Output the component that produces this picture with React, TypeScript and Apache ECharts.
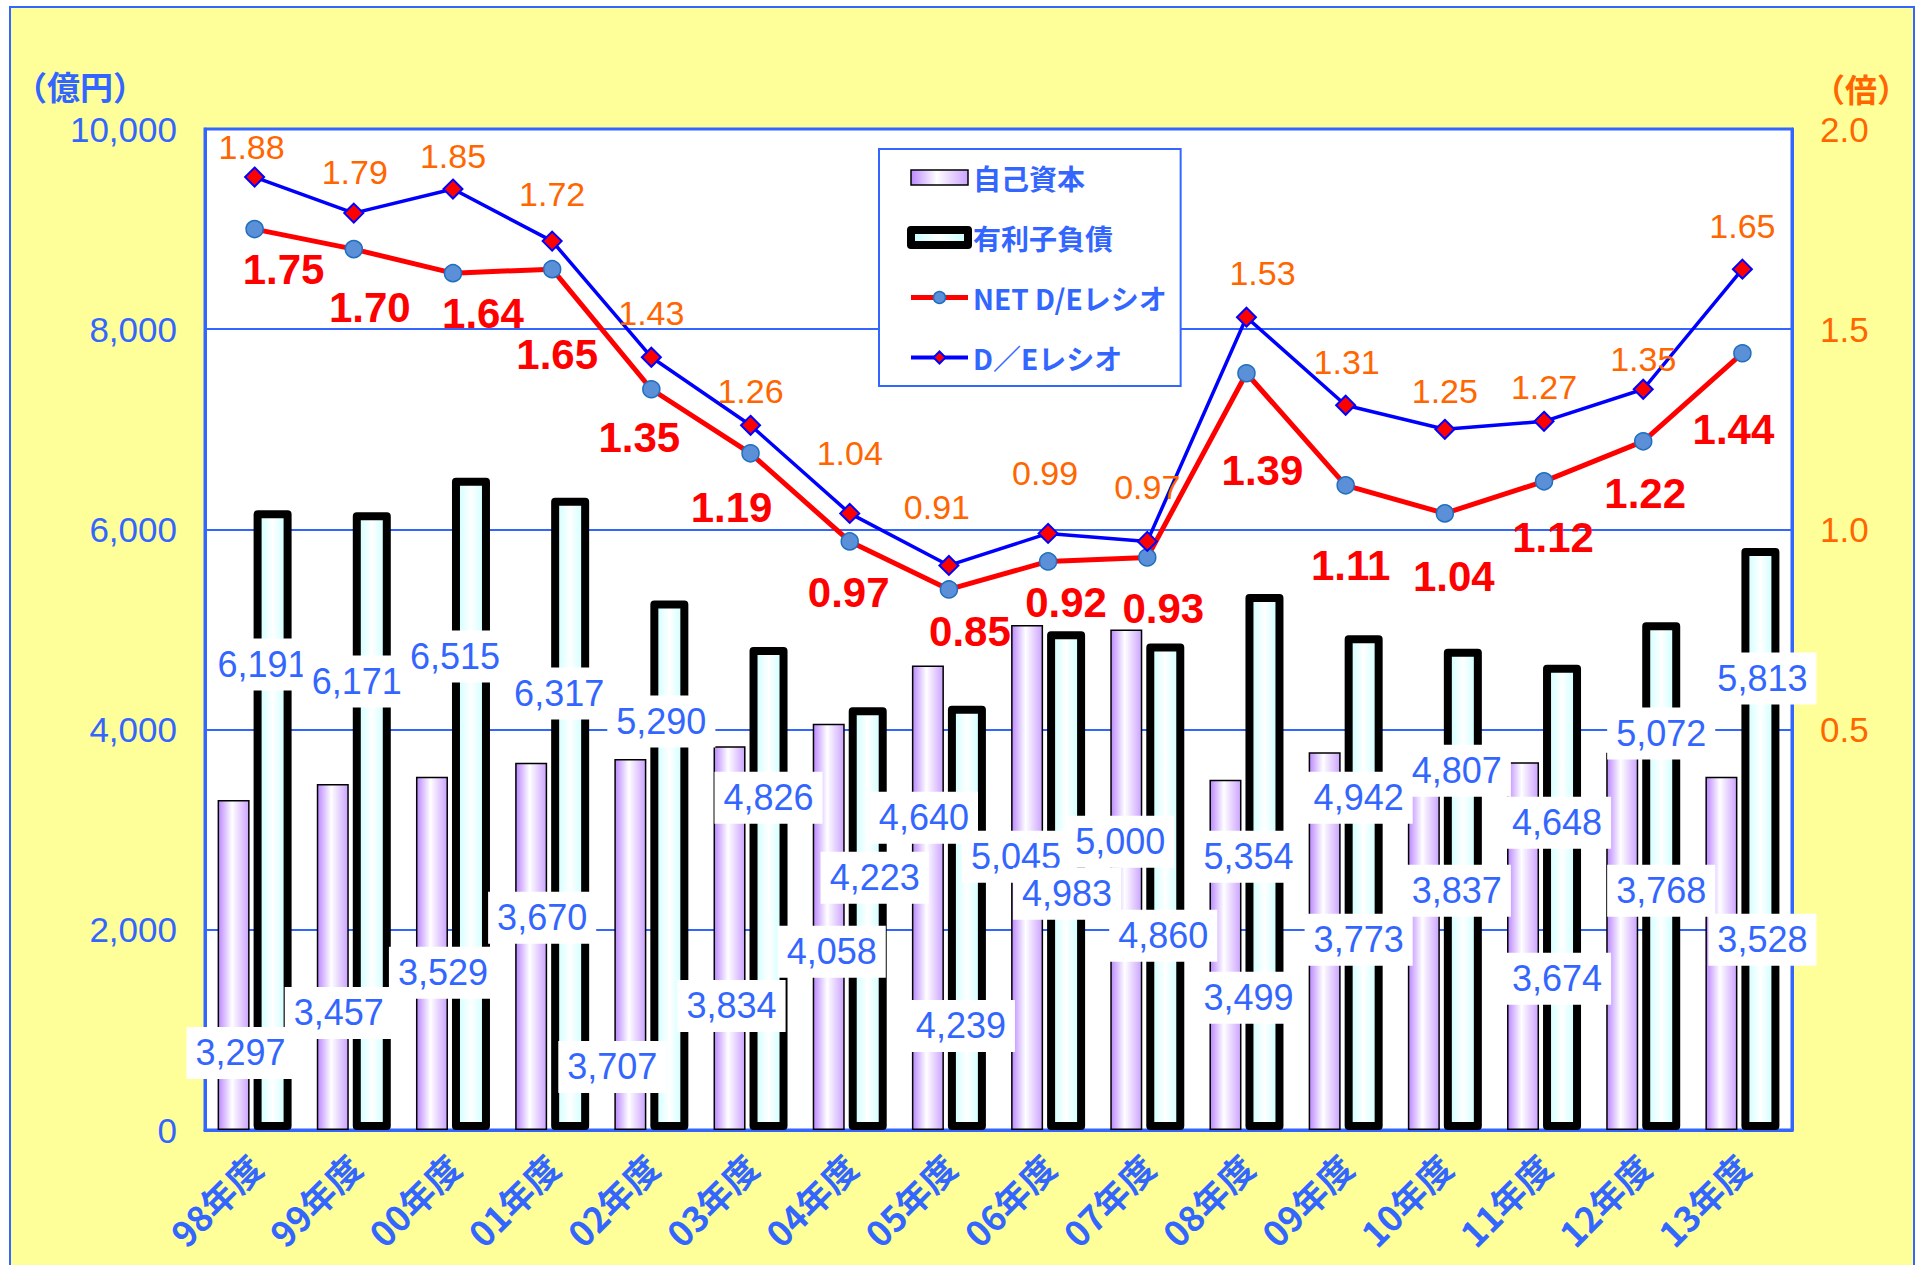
import React, { useEffect, useRef } from "react";
import * as echarts from "echarts";

// ---- data ----
const categories = ["98年度", "99年度", "00年度", "01年度", "02年度", "03年度", "04年度", "05年度", "06年度", "07年度", "08年度", "09年度", "10年度", "11年度", "12年度", "13年度"];
const equity = [3297, 3457, 3529, 3670, 3707, 3834, 4058, 4640, 5045, 5000, 3499, 3773, 3837, 3674, 3768, 3528];
const debt = [6191, 6171, 6515, 6317, 5290, 4826, 4223, 4239, 4983, 4860, 5354, 4942, 4807, 4648, 5072, 5813];
const netDE = [1.75, 1.70, 1.64, 1.65, 1.35, 1.19, 0.97, 0.85, 0.92, 0.93, 1.39, 1.11, 1.04, 1.12, 1.22, 1.44];
const deRatio = [1.88, 1.79, 1.85, 1.72, 1.43, 1.26, 1.04, 0.91, 0.99, 0.97, 1.53, 1.31, 1.25, 1.27, 1.35, 1.65];
const leftTicks = { min: 0, max: 10000, step: 2000 };
const rightTicks = { min: -0.5, max: 2.0, step: 0.5 };

// ---- label layout (where the value boxes sit, in axis units / px nudges) ----
const equityLabelAt = [770, 1170, 1570, 2120, 630, 1240, 1780, 3120, 2730, 2880, 1320, 1900, 2390, 1510, 2390, 1900];
const equityLabelDx = [-14, -15, -10, -10, -39, -19, -18, -25, -32, -27, 2, 13, 12, 13, 18, 20];
const debtLabelAt = [4650, 4480, 4730, 4360, 4080, 3320, 2520, 1040, 2360, 1940, 2730, 3320, 3590, 3070, 3960, 4510];
const debtLabelDx = [8, 3, 2, 7, 10, 18, 25, 12, 19, 16, 2, 13, 12, 13, 18, 20];
const deLabelOffset = [[-3, -30], [1, -41], [0, -33], [0, -47], [0, -44], [0, -34], [0, -60], [-12, -58], [-3, -60], [0, -54], [16, -44], [1, -43], [0, -38], [0, -34], [0, -30], [0, -43]];
const netLabelOffset = [[29, 40], [16, 58], [30, 40], [5, 85], [-12, 48], [-19, 54], [-1, 51], [21, 42], [18, 41], [16, 51], [16, 97], [5, 80], [9, 63], [9, 56], [2, 52], [-9, 76]];

const BLUE = "#3366FF";
const ORANGE = "#FF6600";
const NUM_FONT = "'Liberation Sans', Arial, sans-serif";
const CJK_FONT = "'Noto Sans CJK JP', sans-serif";

const fmt = (v: number) => v.toLocaleString("en-US");

export default function App() {
  const ref = useRef<HTMLDivElement>(null);
  useEffect(() => {
    if (!ref.current) return;
    const chart = echarts.init(ref.current, null, { renderer: "svg" });

    const equityFill = () =>
      new echarts.graphic.LinearGradient(0, 0, 1, 0, [
        { offset: 0, color: "#BB88FF" },
        { offset: 0.45, color: "#FFFFFF" },
        { offset: 1, color: "#CCA3FF" },
      ]);
    const debtFill = () =>
      new echarts.graphic.LinearGradient(0, 0, 1, 0, [
        { offset: 0, color: "#C8FFFF" },
        { offset: 0.5, color: "#FFFFFF" },
        { offset: 1, color: "#C8FFFF" },
      ]);

    const valueBox = {
      show: true,
      position: "inside",
      backgroundColor: "#FFFFFF",
      padding: [9, 9, 7, 9],
      color: BLUE,
      opacity: 1,
      fontSize: 36,
      fontFamily: NUM_FONT,
    };

    const option: any = {
      animation: false,
      grid: {
        left: 205,
        right: 127,
        top: 129,
        bottom: 135,
        show: true,
        backgroundColor: "#FFFFFF",
        borderColor: BLUE,
        borderWidth: 3,
      },
      legend: {
        orient: "vertical",
        left: 879,
        top: 149,
        backgroundColor: "#FFFFFF",
        borderColor: BLUE,
        borderWidth: 2,
        padding: [12, 14, 12, 28],
        itemWidth: 57,
        itemHeight: 15,
        itemGap: 27,
        selectedMode: false,
        textStyle: { color: BLUE, fontSize: 28, fontWeight: "bold", fontFamily: CJK_FONT, lineHeight: 33 },
        data: [
          { name: "自己資本", icon: "rect", itemStyle: { borderColor: "#000000", borderWidth: 1.5 } },
          { name: "有利子負債", icon: "rect", itemStyle: { borderColor: "#000000", borderWidth: 8, borderJoin: "round" } },
          { name: "NET D/Eレシオ", lineStyle: { width: 5, color: "#FF0000" }, itemStyle: { color: "#5B8FD8", borderColor: "#1F6FBF", borderWidth: 1.5 } },
          { name: "D／Eレシオ", lineStyle: { width: 4, color: "#0000FF" }, itemStyle: { color: "#FF0000", borderColor: "#0000FF", borderWidth: 2 } },
        ],
      },
      xAxis: {
        type: "category",
        data: categories,
        axisLine: { show: true, lineStyle: { color: BLUE, width: 3 } },
        axisTick: { show: false },
        axisLabel: {
          interval: 0,
          rotate: 45,
          margin: 30,
          color: BLUE,
          fontSize: 35,
          fontWeight: "bold",
          fontFamily: CJK_FONT,
        },
      },
      yAxis: [
        {
          type: "value",
          min: leftTicks.min,
          max: leftTicks.max,
          interval: leftTicks.step,
          axisLine: { show: true, lineStyle: { color: BLUE, width: 3 } },
          axisTick: { show: false },
          axisLabel: { margin: 28, color: BLUE, fontSize: 35, fontFamily: NUM_FONT, formatter: (v: number) => fmt(v) },
          splitLine: { show: true, lineStyle: { color: BLUE, width: 2 } },
        },
        {
          type: "value",
          position: "right",
          min: rightTicks.min,
          max: rightTicks.max,
          interval: rightTicks.step,
          axisLine: { show: true, lineStyle: { color: BLUE, width: 3 } },
          axisTick: { show: false },
          axisLabel: {
            margin: 28,
            color: ORANGE,
            fontSize: 35,
            fontFamily: NUM_FONT,
            formatter: (v: number) => (v > 0.001 ? v.toFixed(1) : ""),
          },
          splitLine: { show: false },
        },
      ],
      graphic: [
        {
          type: "text",
          x: 14,
          y: 86,
          style: { text: "（億円）", fill: BLUE, font: `bold 33px ${CJK_FONT}`, align: "left", verticalAlign: "middle" },
        },
        {
          type: "text",
          x: 1813,
          y: 88,
          style: { text: "（倍）", fill: ORANGE, font: `bold 32px ${CJK_FONT}`, align: "left", verticalAlign: "middle" },
        },
      ],
      series: [
        {
          name: "自己資本",
          type: "bar",
          data: equity,
          barWidth: 32,
          barGap: "12.5%",
          itemStyle: { color: equityFill(), borderColor: "#000000", borderWidth: 1.5 },
          z: 2,
        },
        {
          name: "有利子負債",
          type: "bar",
          data: debt,
          barWidth: 38,
          itemStyle: { color: debtFill(), borderColor: "#000000", borderWidth: 8, borderJoin: "round" },
          z: 3,
        },
        {
          name: "NET D/Eレシオ",
          type: "line",
          yAxisIndex: 1,
          data: netDE.map((v, i) => ({ value: v, label: { offset: netLabelOffset[i] } })),
          symbol: "circle",
          symbolSize: 17,
          lineStyle: { color: "#FF0000", width: 5 },
          itemStyle: { color: "#5B8FD8", borderColor: "#1F6FBF", borderWidth: 1.5 },
          label: {
            show: true,
            position: "inside",
            color: "#FF0000",
            fontSize: 42,
            fontWeight: "bold",
            fontFamily: NUM_FONT,
            formatter: (p: any) => Number(p.value).toFixed(2),
          },
          z: 10,
        },
        {
          name: "D／Eレシオ",
          type: "line",
          yAxisIndex: 1,
          data: deRatio.map((v, i) => ({ value: v, label: { offset: deLabelOffset[i] } })),
          symbol: "diamond",
          symbolSize: 19,
          lineStyle: { color: "#0000FF", width: 3.5 },
          itemStyle: { color: "#FF0000", borderColor: "#0000FF", borderWidth: 2 },
          label: {
            show: true,
            position: "inside",
            color: ORANGE,
            fontSize: 34,
            fontFamily: NUM_FONT,
            formatter: (p: any) => Number(p.value).toFixed(2),
          },
          z: 11,
        },
        {
          name: "equityValues",
          type: "scatter",
          yAxisIndex: 0,
          symbolSize: 1,
          silent: true,
          itemStyle: { color: "rgba(0,0,0,0)", opacity: 1 },
          data: equityLabelAt.map((y, i) => ({
            value: [i, y],
            label: { offset: [equityLabelDx[i], 0], formatter: fmt(equity[i]) },
          })),
          label: valueBox,
          z: 6,
        },
        {
          name: "debtValues",
          type: "scatter",
          yAxisIndex: 0,
          symbolSize: 1,
          silent: true,
          itemStyle: { color: "rgba(0,0,0,0)", opacity: 1 },
          data: debtLabelAt.map((y, i) => ({
            value: [i, y],
            label: { offset: [debtLabelDx[i], 0], formatter: fmt(debt[i]) },
          })),
          label: valueBox,
          z: 6,
        },
      ],
    };

    chart.setOption(option);
    return () => chart.dispose();
  }, []);

  return (
    <div style={{ position: "absolute", left: 0, top: 0, width: 1919, height: 1265, overflow: "hidden", background: "#FFFFFF" }}>
      <div
        style={{
          position: "absolute",
          left: 9,
          top: 6,
          width: 1902,
          height: 1300,
          border: `2px solid ${BLUE}`,
          background: "#FFFF99",
        }}
      />
      <div ref={ref} style={{ position: "absolute", left: 0, top: 0, width: 1919, height: 1265 }} />
    </div>
  );
}
